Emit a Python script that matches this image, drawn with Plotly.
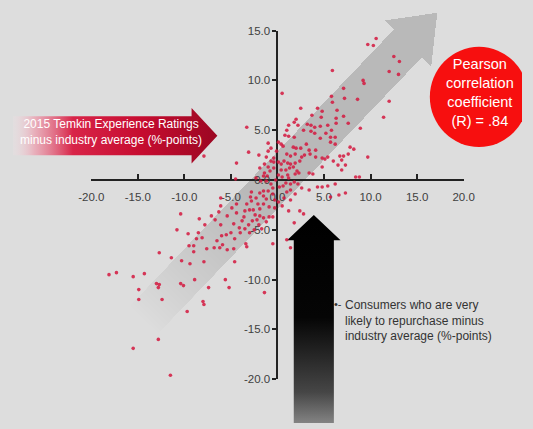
import math
import plotly.graph_objects as go

# ---------------------------------------------------------------- data
# Temkin Experience Rating vs. repurchase likelihood, both relative to
# the industry average (%-points)
x_vals = [
    10.6, 9.7, 10.3, 12.5, 13.1, 13.0, 12.0, 5.9, 9.2, 9.3, 7.1, 12.0, 5.8, 5.9, 7.2, 8.6,
    0.5, 11.4, 2.5, 4.3, 3.7, 4.8, 4.7, 6.4, 7.1, 7.6, 2.0, 1.8, 2.2, 1.2, 3.2, 3.6,
    4.0, 4.6, 5.4, 6.3, 6.3, 8.9, -3.3, 1.0, 2.8, 3.6, 4.0, 5.2, 5.8, 5.7, 6.2, 0.8,
    1.2, 1.8, 4.6, 5.7, 6.2, 7.8, 8.2, 0.1, 0.4, 0.6, 1.7, 2.0, 2.5, 3.1, 3.4, 4.1,
    -0.7, -1.0, -0.1, -3.1, -2.0, -1.2, -0.4, -7.9, 1.0, 1.4, 1.9, 2.6, 2.9, 3.5, 4.1, 4.8,
    5.1, 5.4, 6.0, 6.7, 7.1, 7.6, 9.7, 6.9, 6.5, 7.3, 6.9, 4.8, -4.4, -0.4, 0.1, 0.4,
    0.7, 1.1, 1.4, 1.9, 2.4, -0.4, 0.4, 0.9, 1.3, 1.7, 2.1, 3.4, 3.8, 1.9, 2.3, 8.4,
    8.8, -1.0, -0.8, -1.4, -1.5, -4.5, -2.3, -1.1, 0.1, 0.5, 1.1, 1.2, 0.9, 1.4, 1.8, 0.6,
    2.2, -0.2, 0.2, -0.7, -1.2, -1.8, -1.4, -1.9, -0.7, -1.0,
    4.3, 4.8, 5.4, 6.2, 3.4, 2.6, 6.6, 7.3, 5.7, 1.4, 1.0, 1.9, 0.7, 1.4, 0.1, 0.5,
    1.2, 2.4, 2.8, 1.8, 1.0, 1.4,
    -0.5, -1.0, -0.5, -1.5, -1.9, -1.5, -2.3, -1.2, -0.3, -2.8, -2.9, -2.8, -3.3, -2.1, -1.5, -0.9,
    -0.3, -1.9, -2.6, -3.0, -3.5, -2.4, -1.9, -0.9, -0.5, -1.5, -2.2, -2.7, -1.2, -2.0, -3.1, -3.8,
    -3.6, -4.4, -4.9, -4.4, -6.1, -6.1, -6.3, -5.4, -6.1, -6.7, -7.1, -8.4, -7.8, -4.7, -4.1, -3.5,
    -2.5, -1.7, -3.0, -4.0, -5.0, -5.5, -4.6, -3.4, -3.3, -0.5, -6.0, -6.5, -6.2, -6.8, -7.6, -5.9,
    -5.4, -4.7, -8.7, -8.5, -9.6, -10.8, -10.4, -9.5, -9.0, -9.0, -11.4, -10.3, -9.4, -7.9, -4.6, -12.7,
    -8.9, -10.4, -10.1, -5.6, -5.2, -7.4, -13.0, -12.7, -12.8, -14.3, -15.5, -17.3, -18.1, -14.9, -14.9, -12.4,
    -8.0, -7.9, -9.7, -1.4, -12.8, -15.5, -11.5, -8.1,
]
y_vals = [
    14.2, 13.6, 13.5, 12.4, 11.9, 10.6, 10.9, 11.0, 10.0, 9.7, 9.2, 7.9, 8.4, 7.8, 8.2, 8.1,
    8.7, 6.3, 7.2, 7.2, 6.5, 6.9, 6.3, 7.0, 6.4, 5.7, 6.1, 5.8, 5.5, 5.5, 5.6, 5.5,
    5.3, 5.4, 5.5, 5.7, 6.2, 5.2, 5.3, 5.0, 5.0, 4.9, 4.7, 4.7, 5.0, 4.3, 4.3, 4.5,
    4.4, 4.3, 4.2, 3.8, 3.6, 3.3, 3.1, 3.8, 3.6, 3.4, 3.3, 3.2, 3.2, 3.6, 3.0, 3.0,
    3.2, 2.9, 2.9, 2.8, 2.5, 2.3, 2.2, 2.4, 2.6, 2.4, 2.6, 2.3, 2.5, 2.6, 2.3, 2.2,
    2.1, 2.3, 1.9, 2.4, 2.4, 2.6, 2.3, 2.0, 1.5, 1.5, 1.0, 1.3, 1.7, 1.8, 1.8, 1.6,
    1.9, 1.7, 1.6, 1.7, 1.9, 1.2, 1.0, 1.0, 1.2, 1.3, 0.9, 0.7, 0.6, 0.6, 0.7, 0.3,
    0.3, 1.3, 0.9, 0.7, 0.4, 0.1, 0.2, 0.4, 0.5, 0.3, 0.5, 0.2, -0.3, -0.4, -0.2, -0.6,
    -0.4, 0.0, -0.7, -0.4, -0.1, -0.1, 1.6, 1.2, 1.9, 3.7,
    -0.7, -0.7, -0.6, -0.4, -1.0, -0.8, -1.5, -1.3, -1.7, -1.0, -1.2, -1.4, -1.8, -2.0, -2.2, -2.6,
    -3.1, -3.1, -3.4, -4.3, -6.0, -6.8,
    -0.8, -1.1, -1.4, -1.1, -1.3, -1.6, -1.8, -1.9, -2.0, -1.2, -1.7, -2.1, -2.4, -2.4, -2.4, -2.7,
    -2.8, -2.9, -3.0, -3.0, -3.1, -3.5, -3.6, -3.7, -3.7, -3.8, -4.0, -4.1, -4.2, -4.5, -4.5, -4.1,
    -3.7, -3.3, -2.8, -2.4, -1.8, -2.6, -3.2, -3.6, -4.5, -4.0, -3.6, -3.9, -4.5, -4.4, -4.8, -4.9,
    -5.0, -4.9, -5.3, -5.3, -5.3, -5.5, -5.9, -6.4, -6.7, -6.4, -5.6, -6.1, -6.8, -6.8, -6.9, -6.5,
    -7.0, -6.9, -5.9, -5.3, -5.4, -5.0, -3.4, -6.6, -6.6, -7.2, -7.8, -8.1, -8.4, -8.2, -8.2, -7.3,
    -10.0, -10.4, -10.6, -10.0, -10.8, -10.8, -10.4, -10.5, -10.8, -9.4, -9.7, -9.3, -9.5, -11.0, -12.0, -12.0,
    -12.2, -12.5, -13.2, -11.3, -16.0, -16.9, -19.6, -5.8,
]

x_ticks = [-20, -15, -10, -5, 0, 5, 10, 15, 20]
x_tick_labels = ["-20.0", "-15.0", "-10.0", "-5.0", "0.0", "5.0", "10.0", "15.0", "20.0"]
y_ticks = [-20, -15, -10, -5, 0, 5, 10, 15]
y_tick_labels = ["-20.0", "-15.0", "-10.0", "-5.0", "0.0", "5.0", "10.0", "15.0"]

x_title = ["2015 Temkin Experience Ratings", "minus industry average (%-points)"]
y_title = ["Consumers who are very", "likely to repurchase minus", "industry average (%-points)"]
r_lines = ["Pearson", "correlation", "coefficient", "(R) = .84"]

# ---------------------------------------------------------------- layout constants
W, H = 533, 429
FONT = "Liberation Sans, Arimo, Arial, sans-serif"
BG = "#dddddd"
PLOT_L, PLOT_R = 82.0, 471.9      # pixel span of the x axis line
PLOT_T, PLOT_B = 25.3, 384.0      # pixel span of the y axis line
X_RANGE = [-20, 20]
Y_RANGE = [-20, 15]

ox = PLOT_L + (0 - X_RANGE[0]) / (X_RANGE[1] - X_RANGE[0]) * (PLOT_R - PLOT_L)
oy = PLOT_B - (0 - Y_RANGE[0]) / (Y_RANGE[1] - Y_RANGE[0]) * (PLOT_B - PLOT_T)

fig = go.Figure()


def poly(points, **kw):
    xs = [p[0] for p in points] + [points[0][0]]
    ys = [p[1] for p in points] + [points[0][1]]
    fig.add_trace(go.Scatter(x=xs, y=ys, mode="lines", fill="toself",
                             line=dict(width=0), hoverinfo="skip",
                             showlegend=False, xaxis="x", yaxis="y", **kw))


# diagonal trend arrow (fades out towards its tail)
ang = math.radians(45.8)
ux, uy = math.cos(ang), -math.sin(ang)
nx, ny = -uy, ux


def along(t, s):
    return (ox + ux * t + nx * s, oy + uy * t + ny * s)


T_TAIL, T_FULL, T_HEAD, T_TIP = -200.0, -30.0, 196.0, 240.0
HALF, HEAD_HALF = 20.5, 34.0
STEPS = 36
TARGET = 0.29
a = 1 - (1 - TARGET) ** (1 / STEPS)
for i in range(STEPS):
    t0 = T_TAIL + (T_FULL - T_TAIL) * (i / STEPS) ** 1.1
    poly([along(t0, -HALF), along(T_HEAD, -HALF), along(T_HEAD, -HEAD_HALF),
          along(T_TIP, 0), along(T_HEAD, HEAD_HALF), along(T_HEAD, HALF),
          along(t0, HALF)],
         fillcolor=f"rgba(70,70,70,{a:.4f})")

# red arrow carrying the x-axis description
poly([(0, 113.5), (187, 113.5), (187, 105), (214, 133.5), (187, 162), (187, 153.5), (0, 153.5)],
     fillcolor="#c8102e",
     fillgradient=dict(type="horizontal", start=0, stop=214,
                       colorscale=[[0, "rgba(245,225,230,0.2)"], [0.1, "rgba(236,160,176,0.75)"],
                                   [0.28, "rgb(216,36,72)"], [0.6, "rgb(198,12,48)"],
                                   [1, "rgb(150,6,32)"]]))

# black arrow carrying the y-axis description
poly([(294, 429), (294, 241), (287, 241), (315, 215), (343, 241), (336, 241), (336, 429)],
     fillcolor="black",
     fillgradient=dict(type="vertical", start=215, stop=429,
                       colorscale=[[0, "rgb(0,0,0)"], [0.45, "rgb(5,5,5)"],
                                   [0.8, "rgb(70,70,70)"], [1, "rgb(155,155,155)"]]))

# scatter of the companies
fig.add_trace(go.Scatter(
    x=x_vals, y=y_vals, mode="markers", xaxis="x2", yaxis="y2",
    marker=dict(size=3.6, color="rgba(212,24,62,0.85)", line=dict(width=0)),
    hoverinfo="skip", showlegend=False, cliponaxis=False))

# correlation badge
cx, cy, rad = 488.0, 93.5, 51.5
fig.add_shape(type="circle", xref="x", yref="y", x0=cx - rad, x1=cx + rad,
              y0=cy - rad, y1=cy + rad, fillcolor="#f70f0f", line=dict(width=0),
              layer="above")

annotations = [
    dict(x=103, y=130, xref="x", yref="y", text="<br>".join(x_title), showarrow=False,
         font=dict(family=FONT, size=12, color="white"), align="center"),
    dict(x=cx + 1, y=cy - 4.5, xref="x", yref="y", text="<br>".join(r_lines), showarrow=False,
         font=dict(family=FONT, size=14.5, color="white"), align="center"),
    dict(x=346, y=323.5, xref="x", yref="y", text="<br>".join(y_title), showarrow=False,
         xanchor="left", font=dict(family=FONT, size=12, color="#333333"), align="left"),
    dict(x=346.5, y=307, xref="x", yref="y", text="•-", showarrow=False, xanchor="right",
         font=dict(family=FONT, size=11, color="#333333")),
]

fig.update_layout(
    width=W, height=H,
    margin=dict(l=0, r=0, t=0, b=0),
    paper_bgcolor=BG, plot_bgcolor="rgba(0,0,0,0)",
    showlegend=False,
    annotations=annotations,
    xaxis=dict(domain=[0, 1], range=[0, W], visible=False, fixedrange=True),
    yaxis=dict(domain=[0, 1], range=[H, 0], visible=False, fixedrange=True),
    xaxis2=dict(domain=[PLOT_L / W, PLOT_R / W], range=X_RANGE, anchor="free",
                position=1 - oy / H, showline=True, linecolor="#222222", linewidth=2,
                ticks="inside", ticklen=5, tickwidth=2, tickcolor="#222222",
                tickvals=x_ticks, ticktext=x_tick_labels, showgrid=False, zeroline=False,
                ticklabelstandoff=6, layer="below traces",
                tickfont=dict(family=FONT, size=11.5, color="#404040"), fixedrange=True),
    yaxis2=dict(domain=[1 - PLOT_B / H, 1 - PLOT_T / H], range=Y_RANGE, anchor="free",
                position=ox / W, showline=True, linecolor="#222222", linewidth=2,
                ticks="outside", ticklen=4, tickwidth=2, tickcolor="#222222",
                tickvals=y_ticks, ticktext=y_tick_labels, showgrid=False, zeroline=False,
                layer="below traces",
                tickfont=dict(family=FONT, size=11.5, color="#404040"), fixedrange=True),
)

fig.write_html("out.html", config=dict(displayModeBar=False))
